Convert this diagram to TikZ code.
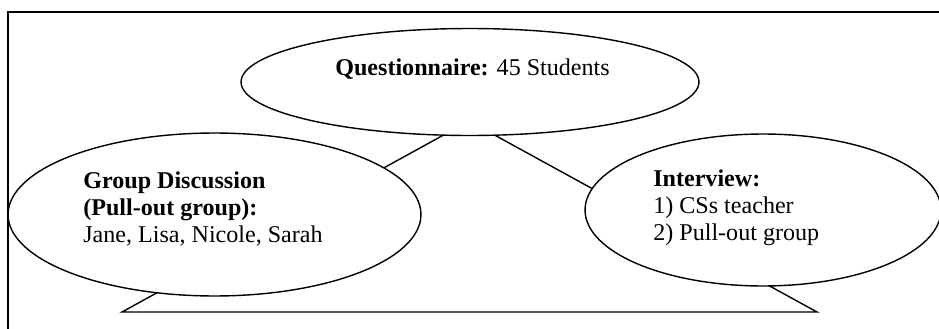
\documentclass[tikz,border=0pt]{standalone}
\usepackage{fontspec}
\setmainfont{Liberation Serif}
\usetikzlibrary{shapes.geometric}

\begin{document}
\begin{tikzpicture}[x=0.02cm, y=-0.02cm,
  bubble/.style={ellipse, draw, fill=white, line width=0.8pt, inner sep=0pt},
  bubbletext/.style={anchor=base west, inner sep=0pt, align=left, font=\fontsize{13.7}{15.3}\selectfont}]
\useasboundingbox (0,0) rectangle (939,328);
\clip (0,0) rectangle (939,328);
% outer frame
\draw[line width=0.8pt] (8,12) rectangle (960,350);
% triangle behind the bubbles
\coordinate (apex) at (469,121);
\coordinate (leftcorner) at (122,312);
\coordinate (rightcorner) at (817,312);
\draw[line width=0.8pt] (apex) -- (leftcorner) -- (rightcorner) -- cycle;
% bubbles
\node[bubble, minimum width=9.16cm, minimum height=2.14cm] (questionnaire) at (470,82) {};
\node[bubble, minimum width=8.26cm, minimum height=3.26cm] (discussion) at (214.5,214.5) {};
\node[bubble, minimum width=7.12cm, minimum height=3.04cm] (interview) at (763,210) {};
% texts (base = last line)
\node[bubbletext] (questionnairetext) at (335,75) {\textbf{Questionnaire:} 45 Students};
\node[bubbletext] (discussiontext) at (83,242) {\textbf{Group Discussion}\\\textbf{(Pull-out group):}\\Jane, Lisa, Nicole, Sarah};
\node[bubbletext] (interviewtext) at (653,240) {\textbf{Interview:}\\1) CSs teacher\\2) Pull-out group};
\end{tikzpicture}
\end{document}
